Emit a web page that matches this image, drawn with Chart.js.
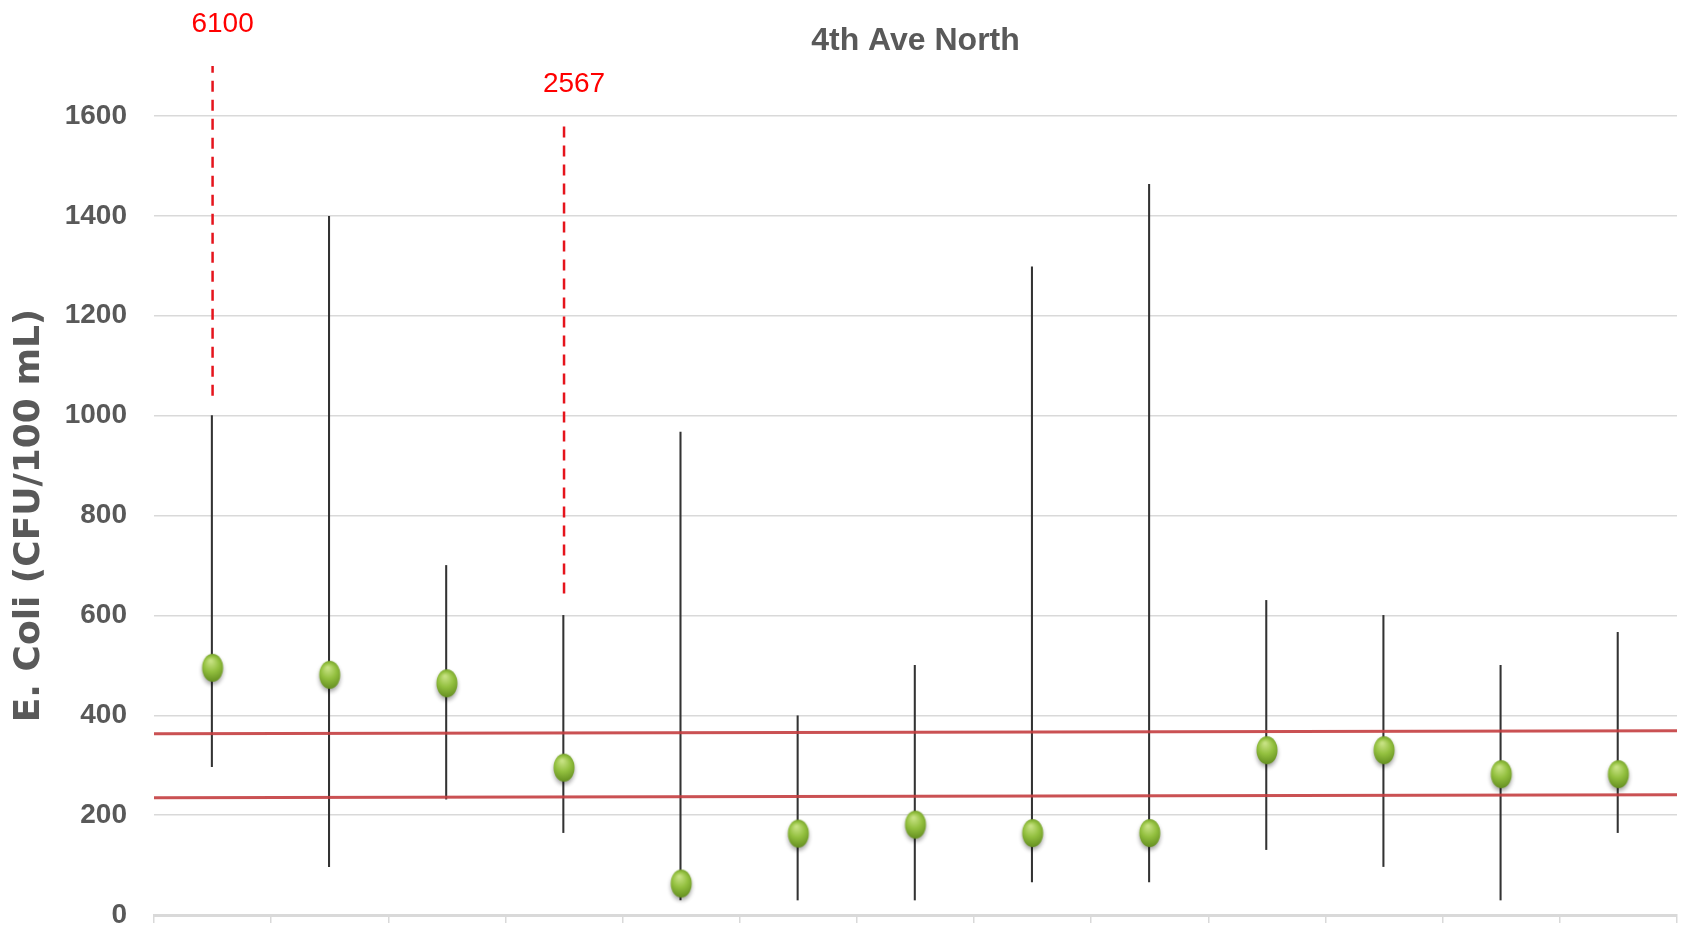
<!DOCTYPE html>
<html>
<head>
<meta charset="utf-8">
<script src="https://cdn.jsdelivr.net/npm/chart.js@4/dist/chart.umd.min.js"></script>
<style>
html, body { margin: 0; padding: 0; background: #fff; overflow: hidden; }
</style>
</head>
<body>
<canvas id="myChart" width="1688" height="926"></canvas>
<script>
// sampling events (axis labels are below the visible area)
const categories = ['1', '2', '3', '4', '5', '6', '7', '8', '9', '10', '11', '12', '13'];
const geoMeans  = [495, 481, 464, 295, 63, 163, 181, 164, 164, 330, 330, 282, 282];
const rangeLow  = [297, 97, 232, 165, 30, 30, 30, 66, 66, 131, 97, 30, 165];
const rangeHigh = [1000, 1399, 700, 600, 967, 399, 500, 1298, 1463, 630, 600, 500, 566];
const yTicks = [0, 200, 400, 600, 800, 1000, 1200, 1400, 1600];

// criteria lines (left end, right end)
const upperLimit = [363, 369];
const lowerLimit = [235, 241];

// values that go off the scale
const offCats = ['1', '4'];
const offText = ['6100', '2567'];
const offFrom = [1040, 644];
const offTo   = [1700, 1579];

const sans = "'Liberation Sans', Arial, sans-serif";

function makeBead() {
    const c = document.createElement('canvas');
    c.width = 32; c.height = 44;
    const g = c.getContext('2d');
    g.shadowColor = 'rgba(0,0,0,0.35)';
    g.shadowBlur = 4;
    g.shadowOffsetY = 3;
    const grad = g.createRadialGradient(14, 15, 1, 16, 22, 16);
    grad.addColorStop(0, '#c6e182');
    grad.addColorStop(0.45, '#93c03f');
    grad.addColorStop(1, '#5b851a');
    g.fillStyle = grad;
    g.beginPath();
    g.ellipse(16, 22, 10.5, 14, 0, 0, Math.PI * 2);
    g.fill();
    return c;
}

const offLabels = {
    id: 'offLabels',
    afterDatasetsDraw(chart) {
        const ctx = chart.ctx;
        const x = chart.scales.x, y = chart.scales.y;
        ctx.save();
        ctx.fillStyle = '#ff0000';
        ctx.font = '28px ' + sans;
        ctx.textAlign = 'center';
        ctx.textBaseline = 'middle';
        offText.forEach((t, i) => {
            const px = x.getPixelForValue(categories.indexOf(offCats[i])) + 10;
            const py = y.getPixelForValue(offTo[i]) - 42;
            ctx.fillText(t, px, py);
        });
        ctx.restore();
    }
};

const datasets = [
    {
        type: 'line',
        data: geoMeans,
        showLine: false,
        pointStyle: makeBead(),
        pointRadius: 10,
        order: 0
    },
    {
        type: 'bar',
        data: categories.map((c, i) => [rangeLow[i], rangeHigh[i]]),
        backgroundColor: '#333333',
        barThickness: 1.4,
        order: 3
    }
];

[upperLimit, lowerLimit].forEach(v => {
    datasets.push({
        type: 'line',
        xAxisID: 'xs',
        data: [{x: 0, y: v[0]}, {x: 1, y: v[1]}],
        borderColor: 'rgba(196,62,64,0.9)',
        borderWidth: 3,
        pointRadius: 0,
        order: 2
    });
});

offCats.forEach((c, i) => {
    datasets.push({
        type: 'line',
        data: [{x: c, y: offFrom[i]}, {x: c, y: offTo[i]}],
        borderColor: '#e5141c',
        borderWidth: 2.5,
        borderDash: [11, 8],
        pointRadius: 0,
        clip: false,
        order: 1
    });
});

const config = {
    type: 'bar',
    data: { labels: categories, datasets: datasets },
    plugins: [offLabels],
    options: {
        responsive: false,
        animation: false,
        devicePixelRatio: 1,
        layout: { padding: { top: 0, right: 7, bottom: 0, left: 0 } },
        plugins: {
            legend: { display: false },
            tooltip: { enabled: false },
            title: {
                display: true,
                text: '4th Ave North',
                fullSize: false,
                color: '#595959',
                font: { family: sans, size: 32, weight: 'bold', lineHeight: 1.2 },
                padding: { top: 22, bottom: 55.6 }
            }
        },
        scales: {
            x: {
                type: 'category',
                offset: true,
                grid: { offset: true, drawOnChartArea: false, color: '#d9d9d9', lineWidth: 1.5, tickLength: 8 },
                border: { color: '#d9d9d9', width: 3 },
                ticks: { display: false }
            },
            xs: { type: 'linear', min: 0, max: 1, offset: false, display: false },
            y: {
                min: 0,
                max: 1600,
                afterFit(scale) {
                    scale.width = 154;
                    scale.paddingTop = 0;
                    scale.paddingBottom = 0;
                },
                afterBuildTicks(scale) {
                    scale.ticks = yTicks.map(v => ({ value: v }));
                },
                grid: { color: '#d9d9d9', lineWidth: 1.5, drawTicks: false },
                border: { display: false },
                ticks: {
                    color: '#595959',
                    padding: 27,
                    font: { family: sans, size: 28, weight: 'bold' },
                    callback: v => String(v)
                },
                title: {
                    display: true,
                    text: 'E. Coli (CFU/100 mL)',
                    color: '#595959',
                    font: { family: "'DejaVu Sans', sans-serif", size: 36, weight: 'bold', lineHeight: 1.2 },
                    padding: { top: 8, bottom: 0 }
                }
            }
        }
    }
};

const myChart = new Chart(document.getElementById('myChart'), config);
</script>
</body>
</html>
